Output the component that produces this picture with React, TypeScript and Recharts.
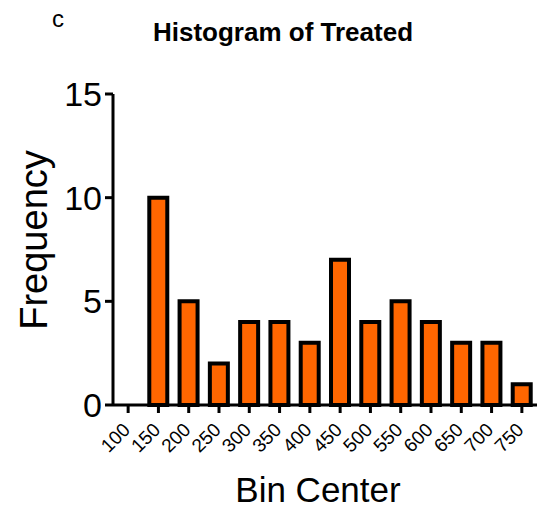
import { BarChart, Bar, XAxis, YAxis } from 'recharts'

const BIN_CENTERS = ['100', '150', '200', '250', '300', '350', '400', '450', '500', '550', '600', '650', '700', '750']
const FREQUENCIES = [0, 10, 5, 2, 4, 4, 3, 7, 4, 5, 4, 3, 3, 1]
const Y_TICKS = [0, 5, 10, 15]

const FONT = '"Liberation Sans", Arial, sans-serif'

const data = BIN_CENTERS.map((bin, i) => ({ bin, freq: FREQUENCIES[i] }))

function XTick({ x, y, payload }: any) {
  const ax = x + 3
  const ay = y + 16
  return (
    <text x={ax} y={ay} transform={`rotate(-45, ${ax}, ${ay})`} textAnchor="end"
      fontSize={19} fontFamily={FONT} fill="#000">
      {payload.value}
    </text>
  )
}

export default function App() {
  return (
    <div style={{ position: 'absolute', left: 0, top: 0, width: 552, height: 512, background: '#fff', fontFamily: FONT }}>
      <div style={{ position: 'absolute', left: 52, top: 5, fontSize: 24, lineHeight: '28px' }}>c</div>
      <div style={{ position: 'absolute', left: 0, width: 566, top: 17, textAlign: 'center', fontSize: 26, fontWeight: 'bold' }}>
        Histogram of Treated
      </div>
      <div style={{ position: 'absolute', left: 34, top: 240, transform: 'translate(-50%, -50%) rotate(-90deg)', fontSize: 38, whiteSpace: 'nowrap' }}>
        Frequency
      </div>
      <div style={{ position: 'absolute', left: 318, top: 490, transform: 'translate(-50%, -50%)', fontSize: 35, whiteSpace: 'nowrap' }}>
        Bin Center
      </div>
      <BarChart width={552} height={512} data={data} margin={{ top: 94, right: 15, bottom: 47, left: 53 }}
        style={{ position: 'absolute', left: 0, top: 0 }}>
        <XAxis dataKey="bin" interval={0} height={60} tick={<XTick />} tickSize={8} tickMargin={2}
          axisLine={{ stroke: '#000', strokeWidth: 3 }} tickLine={{ stroke: '#000', strokeWidth: 3 }} />
        <YAxis domain={[0, 15]} ticks={Y_TICKS} width={60} tickSize={8} tickMargin={3}
          axisLine={{ stroke: '#000', strokeWidth: 3 }} tickLine={{ stroke: '#000', strokeWidth: 3 }}
          tick={{ fontSize: 34, fontFamily: FONT, fill: '#000' }} />
        <Bar dataKey="freq" fill="#ff6600" stroke="#000" strokeWidth={4} barSize={18} isAnimationActive={false} />
      </BarChart>
    </div>
  )
}
